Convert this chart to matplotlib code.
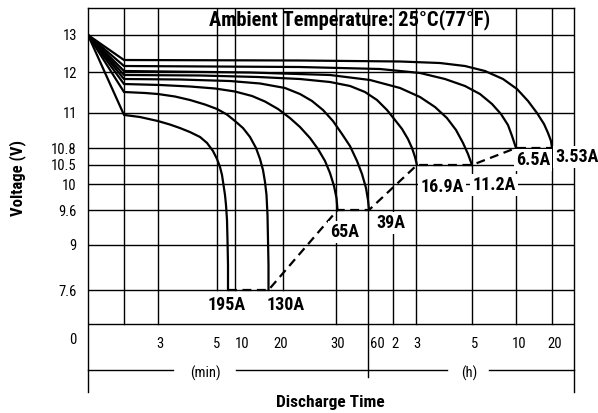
import numpy as np
import matplotlib
matplotlib.use("Agg")
import matplotlib.pyplot as plt
from matplotlib import font_manager
from matplotlib.transforms import blended_transform_factory

# ---------------- data ----------------
currents = ["195A", "130A", "65A", "39A", "16.9A", "11.2A", "6.5A", "3.53A"]

# discharge time in minutes, voltage in V
t_195 = [0, 1, 1.941, 3, 3.407, 3.746, 4.085, 4.424, 4.661, 4.864, 5, 5.833, 6.389,
         6.806, 7.222, 7.5, 7.778, 7.917, 8.056, 8.056]
v_195 = [13, 10.989, 10.977, 10.954, 10.934, 10.914, 10.891, 10.863, 10.829, 10.747,
         10.606, 10.447, 10.237, 9.985, 9.831, 9.677, 9.429, 9.086, 8.378, 7.6]

t_130 = [0, 1, 2.235, 3, 3.576, 4.085, 4.593, 5, 7.778, 10, 11.667, 13.125, 14.375,
         15.208, 15.833, 16.25, 16.563, 16.771, 16.875, 16.979, 16.979]
v_130 = [13, 11.512, 11.488, 11.463, 11.402, 11.317, 11.207, 11.098, 10.991, 10.954,
         10.914, 10.863, 10.8, 10.606, 10.368, 10.053, 9.831, 9.514, 9.086, 8.378, 7.6]

t_65 = [0, 1, 3.068, 4.085, 4.932, 10, 13.542, 16.25, 18.958, 21.321, 23.208, 25.094,
        26.604, 27.925, 28.868, 29.623, 30.469, 31.406]
v_65 = [13, 11.707, 11.683, 11.646, 11.598, 11.524, 11.415, 11.28, 11.098, 10.971,
        10.92, 10.857, 10.782, 10.571, 10.289, 9.969, 9.785, 9.6]

t_39 = [0, 1, 3.746, 8.611, 15.208, 20.377, 23.208, 25.472, 27.547, 29.434, 35.625,
        43.125, 49.688, 54.375, 58.125, 60, 62.4]
v_39 = [13, 11.829, 11.817, 11.78, 11.72, 11.61, 11.463, 11.293, 11.073, 10.954,
        10.88, 10.811, 10.571, 10.263, 9.938, 9.754, 9.6]

t_169 = [0, 1, 4.424, 14.792, 23.208, 28.868, 43.125, 57.188, 81.6, 105.6, 125.2,
         143.5, 159.1, 169.6, 177.4, 182.1]
v_169 = [13, 11.927, 11.915, 11.878, 11.829, 11.756, 11.659, 11.512, 11.317, 11.073,
         10.96, 10.909, 10.851, 10.8, 10.641, 10.5]

t_112 = [0, 1, 13.125, 28.868, 64.8, 138.3, 188.6, 220.7, 246.4, 265.7, 280.7, 291.4, 300]
v_112 = [13, 12.027, 11.988, 11.927, 11.805, 11.61, 11.39, 11.146, 10.971, 10.903,
         10.829, 10.694, 10.5]

t_65b = [0, 1, 23.208, 88.8, 188.6, 242.1, 284.9, 354.5, 436.4, 497.7, 545.5, 572.7,
         593.2, 600]
v_65b = [13, 12.162, 12.135, 12.081, 11.976, 11.829, 11.659, 11.463, 11.22, 10.994,
         10.931, 10.869, 10.817, 10.8]

t_353 = [0, 1, 23.208, 138.3, 231.4, 284.9, 388.6, 511.4, 616.7, 800, 950, 1066.7,
         1133.3, 1183.3, 1200]
v_353 = [13, 12.324, 12.311, 12.284, 12.243, 12.162, 12.027, 11.829, 11.585, 11.293,
         11.0, 10.937, 10.886, 10.84, 10.8]

times = [t_195, t_130, t_65, t_39, t_169, t_112, t_65b, t_353]
volts = [v_195, v_130, v_65, v_39, v_169, v_112, v_65b, v_353]

x_tick_vals = [3, 5, 10, 20, 30, 60, 120, 180, 300, 600, 1200]
x_tick_labels = ["3", "5", "10", "20", "30", "60", "2", "3", "5", "10", "20"]
x_grid_vals = [1, 3, 5, 10, 20, 30, 60, 120, 180, 300, 600, 1200]
y_tick_vals = [0, 7.6, 9, 9.6, 10, 10.5, 10.8, 11, 12, 13]
y_tick_labels = ["0", "7.6", "9", "9.6", "10", "10.5", "10.8", "11", "12", "13"]

# ---------------- schematic (non-uniform) scales ----------------
SX_T = [0, 1, 3, 5, 10, 20, 30, 60, 120, 180, 300, 600, 1200, 1800]
SX_P = [88, 124, 158, 217, 235, 283, 336, 368, 393, 416, 472, 516, 552, 574]
SY_V = [-8.6, 0, 7.6, 9, 9.6, 10, 10.5, 10.8, 11, 12, 13, 13.75]
SY_P = [392.3, 338, 290, 245, 210, 184, 165, 148, 113, 72, 35, 7.25]
SY_N = [-p for p in SY_P]

def fx(t):
    return np.interp(np.asarray(t, float), SX_T, SX_P)

def ifx(p):
    return np.interp(np.asarray(p, float), SX_P, SX_T)

def fy(v):
    return np.interp(np.asarray(v, float), SY_V, SY_N)

def ify(p):
    return np.interp(np.asarray(p, float), SY_N, SY_V)

# ---------------- fonts ----------------
names = {f.name for f in font_manager.fontManager.ttflist}
fam = next((n for n in ["Roboto Condensed", "Liberation Sans Narrow", "Liberation Sans"]
            if n in names), "DejaVu Sans")
plt.rcParams["font.family"] = [fam, "DejaVu Sans"]

W, H = 598, 413
fig = plt.figure(figsize=(W / 100, H / 100), dpi=100)
ax = fig.add_axes([88 / W, 1 - 392 / H, (574 - 88) / W, (392 - 8) / H])
ax.set_xscale("function", functions=(fx, ifx))
ax.set_yscale("function", functions=(fy, ify))
ax.set_xlim(0, 1800)
ax.set_ylim(float(ify(-392)), float(ify(-8)))
ytop = ax.get_ylim()[1]

for s in ["left", "right", "top"]:
    ax.spines[s].set_linewidth(1.0)
ax.spines["bottom"].set_visible(False)

ax.set_xticks([])
ax.set_yticks(y_tick_vals)
ax.set_yticklabels(y_tick_labels, fontsize=10.5)
ax.tick_params(axis="y", length=0, pad=8)

blend = blended_transform_factory(ax.transData, ax.transAxes)
v_bottom_grid = float(ify(-324))

gc = "black"
glw = 1.0
# horizontal lines
for v in y_tick_vals[1:]:
    ax.axhline(v, color=gc, lw=glw, zorder=1)
ax.axhline(v_bottom_grid, color=gc, lw=glw, zorder=1)

# vertical lines
for t in x_grid_vals:
    if t in (5, 10, 20):
        lo = 7.6
    elif t == 60:
        lo = float(ify(-377))
    else:
        lo = v_bottom_grid
    ax.plot([t, t], [lo, ytop], color=gc, lw=glw, zorder=1)

# tick labels on the time axis
x_lab_off = [1.5, 0, 5, -2, 1.5, 6.5, 1.5, 1, 2, 2, 2]
for t, lab, off in zip(x_tick_vals, x_tick_labels, x_lab_off):
    ax.annotate(lab, xy=(t, (392 - 344) / 384), xycoords=blend,
                xytext=(off, 0), textcoords="offset points",
                ha="center", va="center", fontsize=10.5)

# (min) / (h) rows
row = (392 - 370) / 384
for a, b in [(88, 173), (236, 447), (489, 574)]:
    ax.plot([(a - 88) / 486, (b - 88) / 486], [row, row], transform=ax.transAxes,
            color=gc, lw=glw, clip_on=False)
ax.text((205 - 88) / 486, (392 - 373) / 384, "(min)", transform=ax.transAxes,
        ha="center", va="center", fontsize=10.5)
ax.text((469 - 88) / 486, (392 - 373) / 384, "(h)", transform=ax.transAxes,
        ha="center", va="center", fontsize=10.5)

# discharge curves
for t, v in zip(times, volts):
    ax.plot(t, v, color="black", lw=1.6, zorder=3, solid_joinstyle="round")

# dashed line joining end points
ends = sorted((t[-1], v[-1]) for t, v in zip(times, volts))
ax.plot([e[0] for e in ends], [e[1] for e in ends], color="black", lw=1.6,
        ls=(0, (4, 2.5)), zorder=3)

# current labels
lab_off = [(-0.7, -10.8), (12.2, -10.8), (5, -15.8), (15.8, -9.4),
           (18, -15.8), (15.8, -14.4), (12.2, -8.6), (18.0, -6.5)]
for cur, t, v, off in zip(currents, times, volts, lab_off):
    ax.annotate(cur, xy=(t[-1], v[-1]), xytext=off, textcoords="offset points",
                ha="center", va="center", fontsize=13, fontweight="bold",
                bbox=dict(fc="white", ec="none", pad=1.5), zorder=5,
                annotation_clip=False)

ax.text((350 - 88) / 486, (392 - 20) / 384, "Ambient Temperature: 25°C(77°F)",
        transform=ax.transAxes, ha="center", va="center", fontsize=14.8,
        fontweight="bold", zorder=6)

ax.set_ylabel("Voltage (V)", fontsize=12, fontweight="bold")
ax.yaxis.set_label_coords((18 - 88) / 486, (392 - 178) / 384)
ax.set_xlabel("Discharge Time", fontsize=12.5, fontweight="bold")
ax.xaxis.set_label_coords((330 - 88) / 486, (392 - 402) / 384)
ax.xaxis.label.set_va("center")
ax.yaxis.label.set_va("center")

fig.savefig("out.png", dpi=100)
